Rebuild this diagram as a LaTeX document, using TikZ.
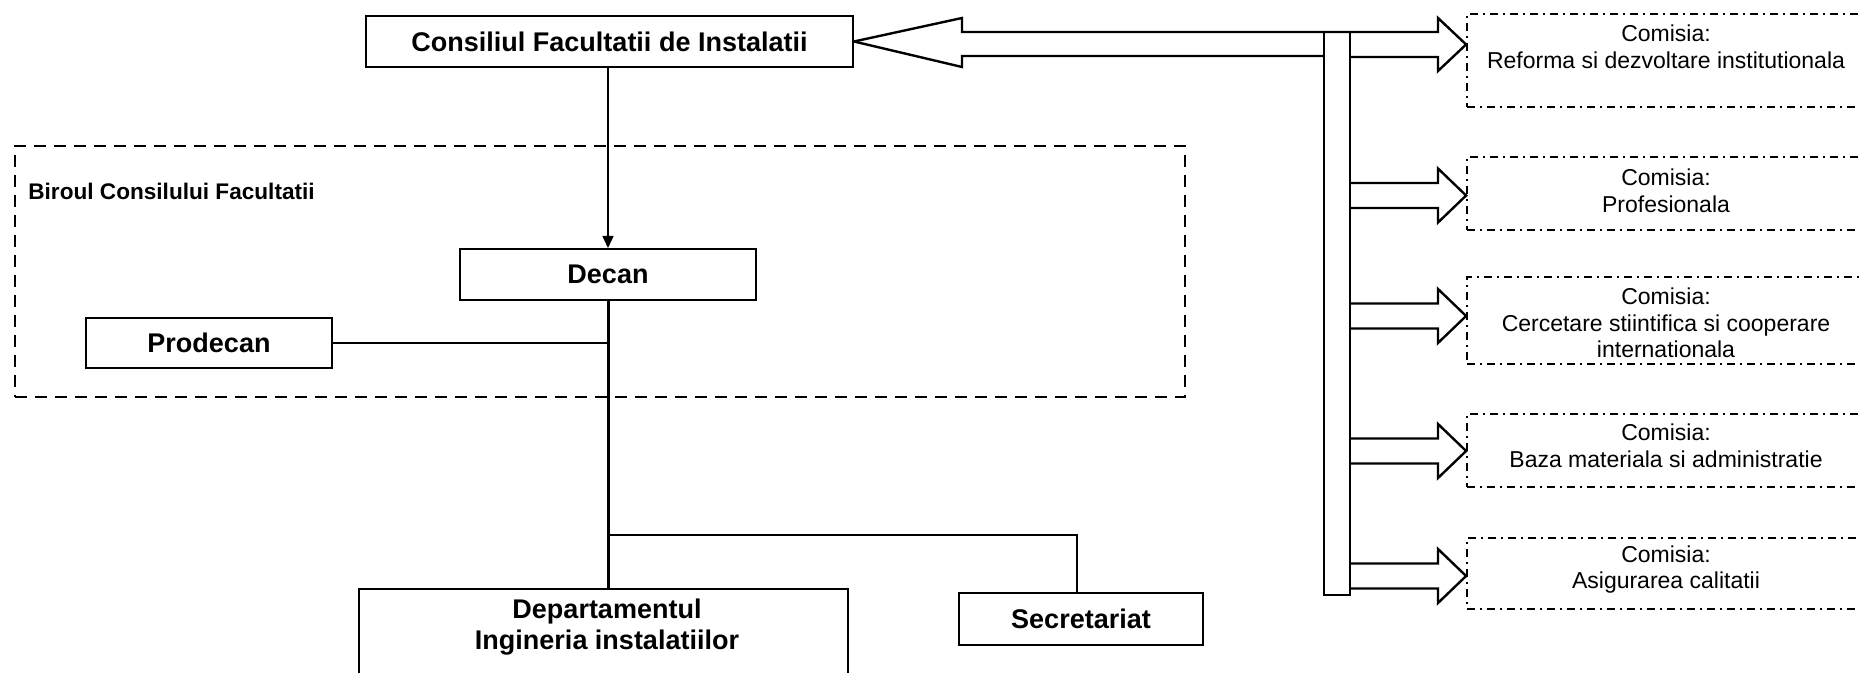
\documentclass[tikz,border=0pt]{standalone}
\usepackage{fontspec}
\setmainfont{Liberation Sans}
\usetikzlibrary{arrows.meta}
\begin{document}
\begin{tikzpicture}[x=0.5pt,y=-0.5pt,
  box/.style={draw, line width=1pt, inner sep=0pt, font=\bfseries\fontsize{13.5}{15.5}\selectfont, align=center},
  boxtext/.style={inner sep=0pt, font=\bfseries\fontsize{13.5}{15.5}\selectfont, align=center},
  groupbox/.style={draw, line width=1.2pt, dash pattern=on 6pt off 4pt, inner sep=0pt},
  combox/.style={draw, line width=0.9pt, dash pattern=on 4pt off 2.5pt on 1pt off 2.5pt, inner sep=0pt, minimum width=199.5pt},
  comtext/.style={inner sep=0pt, font=\fontsize{11.5}{13.3}\selectfont, align=center},
  fat/.style={line width=1.2pt, line join=miter},
  link/.style={line width=1pt},
  trunk/.style={line width=1.5pt}]
\useasboundingbox (0,0) rectangle (1859,673);

% main boxes
\node[box, minimum width=243.5pt, minimum height=25.5pt] (cons) at (609.5,41.5) {Consiliul Facultatii de Instalatii};
\node[groupbox, minimum width=585pt, minimum height=125.5pt] (biroul) at (600,271.5) {};
\node[inner sep=0pt, anchor=west, font=\bfseries\fontsize{11.3}{13}\selectfont] (birtxt) at (28,191) {Biroul Consilului Facultatii};
\node[box, minimum width=148pt, minimum height=25.5pt] (decan) at (608,274.5) {Decan};
\node[box, minimum width=123pt, minimum height=25pt] (prodecan) at (209,343) {Prodecan};
\node[box, minimum width=244.5pt, minimum height=50.5pt] (dept) at (603.5,639.5) {};
\node[boxtext] (depttxt) at (607,627.5) {Departamentul\\Ingineria instalatiilor};
\node[box, minimum width=122pt, minimum height=26pt] (secr) at (1081,619) {Secretariat};

% commissions
\node[combox, minimum height=46.5pt] (c1) at (1666.5,60.5) {};
\node[combox, minimum height=36.5pt] (c2) at (1666.5,193.5) {};
\node[combox, minimum height=43.5pt] (c3) at (1666.5,320.5) {};
\node[combox, minimum height=36.5pt] (c4) at (1666.5,450.5) {};
\node[combox, minimum height=35.5pt] (c5) at (1666.5,573.5) {};
\node[comtext] (t1) at (1666,46.5) {Comisia:\\Reforma si dezvoltare institutionala};
\node[comtext] (t2) at (1666,191) {Comisia:\\Profesionala};
\node[comtext] (t3) at (1666,323) {Comisia:\\Cercetare stiintifica si cooperare\\internationala};
\node[comtext] (t4) at (1666,445.5) {Comisia:\\Baza materiala si administratie};
\node[comtext] (t5) at (1666,569.5) {Comisia:\\Asigurarea calitatii};

% big block arrows
\draw[fat] (cons.east) -- (962,18) -- (962,32) -- (1438,32) -- (1438,18)
  -- (c1.west |- 0,44.5) -- (1438,71) -- (1438,57) -- (1350,57);
\draw[fat] (cons.east) -- (962,67) -- (962,56) -- (1324,56);
\draw[fat] (1324,32) rectangle (1350,595);
\foreach \n/\y in {c2/195.5, c3/316, c4/451, c5/576}
  \draw[fat] (1350,\y-12.5) -- (1438,\y-12.5) -- (1438,\y-27) -- (\n.west |- 0,\y)
    -- (1438,\y+27) -- (1438,\y+12.5) -- (1350,\y+12.5);

% connectors
\draw[link, line width=0.8pt, -{Triangle[length=6pt,width=5.5pt]}] (cons.south -| decan.north) -- (decan.north);
\draw[trunk] (decan.south) -- (decan.south |- dept.north);
\draw[link] (prodecan.east) -- (prodecan.east -| decan.south);
\coordinate (br) at (decan.south |- 0,535);
\coordinate (secrtop) at ([xshift=-2pt]secr.north);
\draw[link] (br) -| (secrtop);
\end{tikzpicture}
\end{document}
